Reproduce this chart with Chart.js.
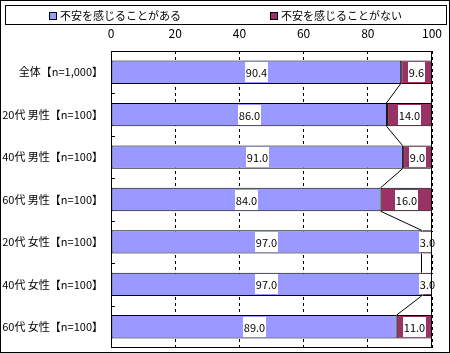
<!DOCTYPE html>
<html lang="ja">
<head>
<meta charset="utf-8">
<script src="https://cdn.jsdelivr.net/npm/chart.js@4"></script>
<style>body{margin:0;background:#fff}</style>
</head>
<body>
<canvas id="anxietyChart" width="450" height="353"></canvas>
<script>
// 回答者区分
const groups = ['全体【n=1,000】', '20代 男性【n=100】', '40代 男性【n=100】', '60代 男性【n=100】',
    '20代 女性【n=100】', '40代 女性【n=100】', '60代 女性【n=100】'];
const seriesNames = ['不安を感じることがある', '不安を感じることがない'];
const aru = [90.4, 86.0, 91.0, 84.0, 97.0, 97.0, 89.0];
const nai = [9.6, 14.0, 9.0, 16.0, 3.0, 3.0, 11.0];
const xTicks = [0, 20, 40, 60, 80, 100];
const colors = ['#9999FF', '#993366'];

const FONT = '"MS PGothic", "Noto Sans CJK JP", sans-serif';
Chart.defaults.font.family = FONT;
Chart.defaults.font.size = 11;
Chart.defaults.color = '#000';

// Excel風の枠・凡例・区分線・ラベル
const excelLook = {
    id: 'excelLook',
    afterDatasetsDraw(chart) {
        const ctx = chart.ctx;
        const bars = chart.getDatasetMeta(0).data;
        ctx.save();
        ctx.strokeStyle = '#000';
        ctx.lineWidth = 1;
        for (let i = 0; i < bars.length - 1; i++) {
            const a = bars[i], b = bars[i + 1];
            ctx.beginPath();
            ctx.moveTo(Math.round(a.x) - 0.5, a.y + a.height / 2);
            ctx.lineTo(Math.round(b.x) - 0.5, b.y - b.height / 2);
            ctx.stroke();
        }
        ctx.font = '11px ' + FONT;
        ctx.textAlign = 'center';
        ctx.textBaseline = 'middle';
        chart.data.datasets.forEach((ds, di) => {
            chart.getDatasetMeta(di).data.forEach((el, i) => {
                const txt = ds.data[i].toFixed(1);
                const cx = (el.x + el.base) / 2;
                const w = Math.round(ctx.measureText(txt).width) + 2;
                const bx = Math.round(cx - w / 2);
                ctx.fillStyle = '#fff';
                ctx.fillRect(bx, Math.round(el.y) - 10, w, 20);
                ctx.fillStyle = '#000';
                ctx.fillText(txt, bx + w / 2, Math.round(el.y) + 1);
            });
        });
        ctx.restore();
    },
    afterDraw(chart) {
        const ctx = chart.ctx;
        const area = chart.chartArea;
        const y = chart.scales.y;
        ctx.save();
        ctx.strokeStyle = '#000';
        ctx.lineWidth = 1;
        // プロットエリア枠
        ctx.strokeRect(area.left + 0.5, area.top + 0.5, area.right - area.left - 1, area.bottom - area.top - 1);
        // 左軸の内向き目盛
        for (let i = 1; i < groups.length; i++) {
            const yy = Math.round((y.getPixelForValue(i - 1) + y.getPixelForValue(i)) / 2) + 0.5;
            ctx.beginPath();
            ctx.moveTo(area.left, yy);
            ctx.lineTo(area.left + 4, yy);
            ctx.stroke();
        }
        // 凡例
        const lx = 5, ly = 5, lw = 441, lh = 19;
        ctx.strokeRect(lx + 0.5, ly + 0.5, lw, lh);
        ctx.font = '11px ' + FONT;
        ctx.textBaseline = 'middle';
        ctx.textAlign = 'left';
        const slot = lw / chart.data.datasets.length;
        chart.data.datasets.forEach((ds, i) => {
            const tw = ctx.measureText(ds.label).width;
            const itemW = 8 + 3 + tw;
            const sx = Math.round(lx + slot * i + (slot - itemW) / 2);
            ctx.fillStyle = ds.backgroundColor;
            ctx.fillRect(sx, 12, 8, 8);
            ctx.strokeRect(sx + 0.5, 12.5, 7, 7);
            ctx.fillStyle = '#000';
            ctx.fillText(ds.label, sx + 11, 16);
        });
        // 外枠
        ctx.strokeRect(0.5, 0.5, 449, 352);
        ctx.restore();
    }
};

function noPad(s) {
    s.paddingTop = 0;
    s.paddingBottom = 0;
    s.paddingLeft = 0;
    s.paddingRight = 0;
}

new Chart(document.getElementById('anxietyChart'), {
    type: 'bar',
    data: {
        labels: groups,
        datasets: [{
            label: seriesNames[0],
            data: aru,
            backgroundColor: colors[0],
            borderColor: '#000',
            borderWidth: 1,
            borderSkipped: false
        }, {
            label: seriesNames[1],
            data: nai,
            backgroundColor: colors[1],
            borderColor: '#000',
            borderWidth: 1,
            borderSkipped: false
        }]
    },
    options: {
        indexAxis: 'y',
        responsive: false,
        animation: false,
        layout: { padding: { top: 25, right: 18, bottom: 5, left: 0 } },
        datasets: { bar: { categoryPercentage: 1, barPercentage: 0.55 } },
        plugins: {
            legend: { display: false },
            tooltip: { enabled: false }
        },
        scales: {
            x: {
                position: 'top',
                stacked: true,
                min: 0,
                max: 100,
                afterBuildTicks: s => { s.ticks = xTicks.map(v => ({ value: v })); },
                afterFit: s => { s.height = 26; noPad(s); },
                ticks: { padding: 10, maxRotation: 0, font: { size: 12 } },
                grid: { color: '#000', lineWidth: 1, drawTicks: false },
                border: { display: false, dash: [3, 3] }
            },
            y: {
                stacked: true,
                afterFit: s => { s.width = 111; noPad(s); },
                ticks: { padding: 8 },
                grid: { display: false, drawTicks: false },
                border: { display: false }
            }
        }
    },
    plugins: [excelLook]
});
</script>
</body>
</html>
